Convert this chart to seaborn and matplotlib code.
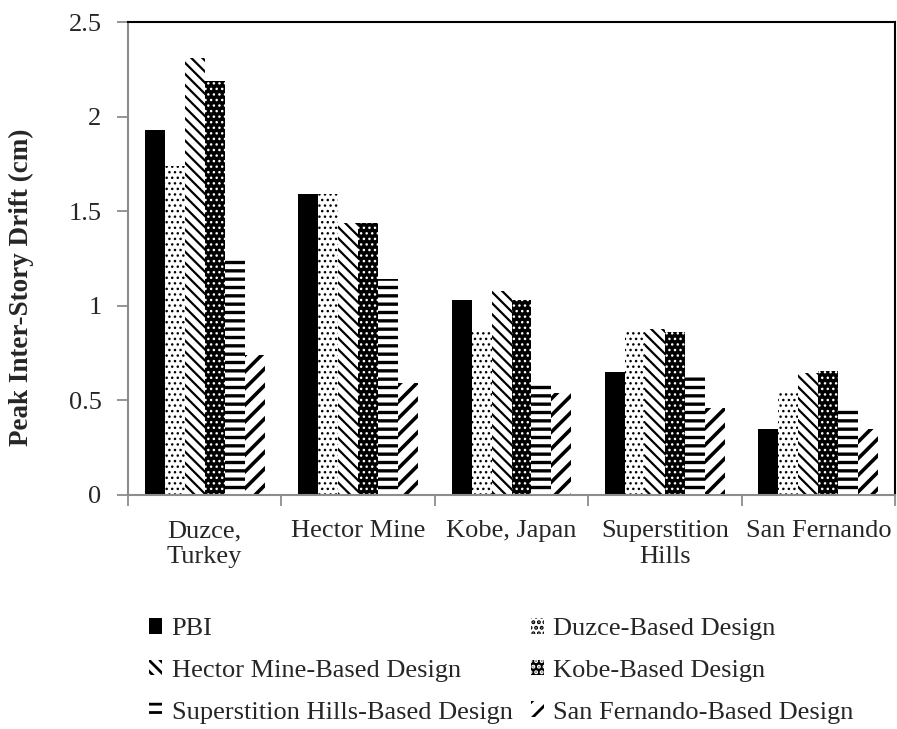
import numpy as np
import pandas as pd
import seaborn as sns
import matplotlib.pyplot as plt
from matplotlib.patches import Patch

# Data
events = ["Duzce,\nTurkey", "Hector Mine", "Kobe, Japan", "Superstition\nHills", "San Fernando"]
designs = ["PBI", "Duzce-Based Design", "Hector Mine-Based Design", "Kobe-Based Design",
           "Superstition Hills-Based Design", "San Fernando-Based Design"]

pbi = [1.93, 1.59, 1.03, 0.65, 0.35]
duzce_based = [1.74, 1.59, 0.87, 0.88, 0.55]
hector_based = [2.31, 1.44, 1.08, 0.88, 0.645]
kobe_based = [2.19, 1.44, 1.03, 0.86, 0.655]
superstition_based = [1.26, 1.14, 0.60, 0.645, 0.465]
sanfernando_based = [0.74, 0.59, 0.54, 0.46, 0.35]

yticks = [0, 0.5, 1, 1.5, 2, 2.5]
ytick_labels = ["0", "0.5", "1", "1.5", "2", "2.5"]

series = [pbi, duzce_based, hector_based, kobe_based, superstition_based, sanfernando_based]
df = pd.DataFrame({
    "event": np.tile(events, len(designs)),
    "design": np.repeat(designs, len(events)),
    "drift": np.concatenate(series),
})

# (facecolor, hatch colour, hatch)
styles = [
    ("black", "black", None),
    ("white", "black", "..."),
    ("white", "black", "\\\\\\"),
    ("black", "white", "..."),
    ("white", "black", "--"),
    ("white", "black", "//"),
]
hatch_lw = [1, 1, 1.6, 1, 2.4, 2.6]

sns.set_style("white")
plt.rcParams["font.family"] = ["Liberation Serif", "DejaVu Serif"]
plt.rcParams["hatch.linewidth"] = 2.0

fig = plt.figure(figsize=(8.97, 7.29), dpi=100)
ax = fig.add_axes([0.1427, 0.321, 0.8551, 0.6488])

sns.barplot(data=df, x="event", y="drift", hue="design", hue_order=designs,
            palette=["white"] * len(designs), width=0.78, gap=0, saturation=1,
            legend=False, errorbar=None, ax=ax)

for container, (fc, hc, hatch), lw in zip(ax.containers, styles, hatch_lw):
    for bar in container:
        bar.set_facecolor(fc)
        bar.set_edgecolor(hc)
        bar.set_linewidth(0)
        if hatch:
            bar.set_hatch(hatch)
            if hasattr(bar, "set_hatch_linewidth"):
                bar.set_hatch_linewidth(lw)

ax.set_xlim(-0.5, 4.5)
ax.set_ylim(0, 2.5)
ax.set_yticks(yticks)
ax.set_yticklabels(ytick_labels, fontsize=19)

# category boundary ticks and centered labels
ax.set_xticks(np.arange(-0.5, 5, 1))
ax.set_xticklabels([])
ax.set_xticks(range(len(events)), minor=True)
ax.set_xticklabels(events, minor=True, fontsize=19, linespacing=1.25)
ax.tick_params(axis="x", which="major", direction="out", length=8, width=1.3, color="#8c8c8c", bottom=True)
ax.tick_params(axis="x", which="minor", length=0, pad=18)
ax.tick_params(axis="y", direction="out", length=8, width=1.3, color="#8c8c8c", left=True, pad=11)

ax.set_xlabel("")
ax.set_ylabel("Peak Inter-Story Drift (cm)", fontsize=19.5, fontweight="bold")
ax.yaxis.set_label_coords(-0.123, 0.44)

for side in ["left", "bottom"]:
    ax.spines[side].set_color("#8c8c8c")
    ax.spines[side].set_linewidth(1.5)
for side in ["top", "right"]:
    ax.spines[side].set_color("black")
    ax.spines[side].set_linewidth(1.5)

handles = []
for (fc, hc, hatch), name in zip(styles, designs):
    handles.append(Patch(facecolor=fc, edgecolor=hc, hatch=hatch, linewidth=0, label=name))
# legend reads row-wise in the reference
order = [0, 2, 4, 1, 3, 5]
leg = fig.legend([handles[i] for i in order], [designs[i] for i in order],
                 loc="center", bbox_to_anchor=(0.559, 0.080), ncol=2, frameon=False,
                 fontsize=19, handlelength=0.5, handleheight=0.55, handletextpad=0.35,
                 columnspacing=0.7, labelspacing=0.74)

fig.savefig("out.png", dpi=100)
